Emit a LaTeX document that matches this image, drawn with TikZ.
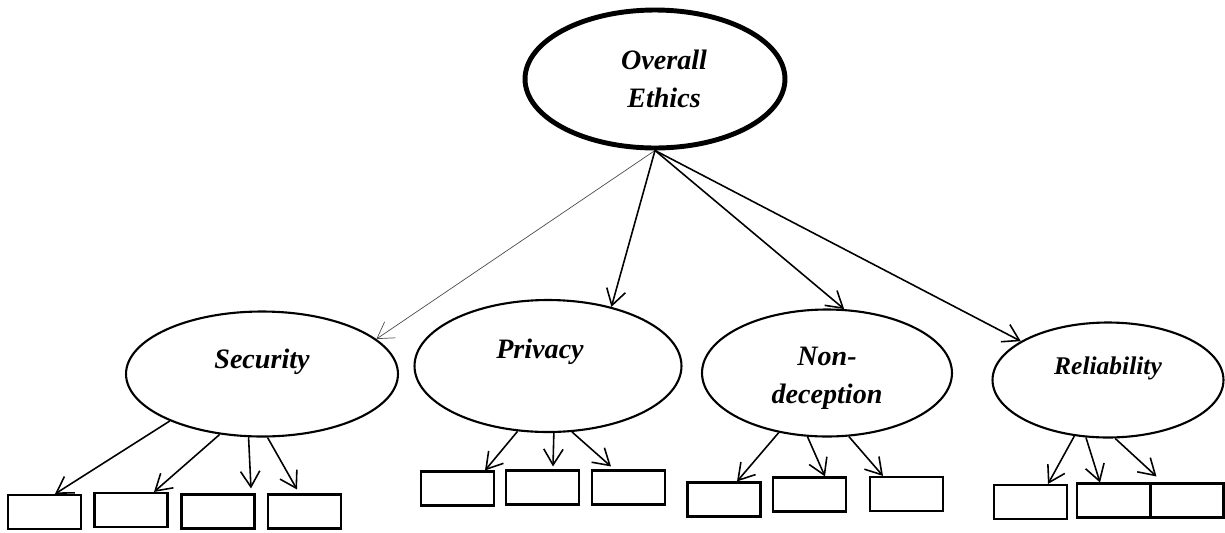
\documentclass[tikz,border=0pt]{standalone}
\usepackage{fontspec}
\setmainfont{Liberation Serif}
\usetikzlibrary{shapes.geometric,arrows.meta}

\tikzset{
	factor/.style={ellipse,draw,line width=1.2pt,inner sep=0pt},
	item/.style={rectangle,draw,line width=1.2pt,minimum width=1.46cm,minimum height=0.68cm,inner sep=0pt},
	factortext/.style={font=\bfseries\itshape\fontsize{16}{21.5}\selectfont,align=center},
}

\begin{document}
\begin{tikzpicture}[x=0.02cm,y=-0.02cm,>={Straight Barb[length=9pt,width=11pt]},line width=0.9pt]

\useasboundingbox (0,0) rectangle (1225,532);

% top level
\node [factor,line width=2.8pt,minimum width=5.2cm,minimum height=2.76cm,
	label={[factortext,xshift=0.18cm]center:{Overall\\Ethics}}] (ethics) at (655,79) {};

% factors
\node [factor,minimum width=5.44cm,minimum height=2.5cm,
	label={[factortext,yshift=0.24cm]center:Security}] (sec) at (262,374) {};
\node [factor,minimum width=5.34cm,minimum height=2.64cm,
	label={[factortext,xshift=-0.16cm,yshift=0.28cm]center:Privacy}] (priv) at (548,366) {};
\node [factor,minimum width=5.0cm,minimum height=2.54cm,
	label={[factortext,yshift=-0.1cm]center:{Non-\\deception}}] (nondec) at (827,373) {};
\node [factor,minimum width=4.62cm,minimum height=2.3cm,
	label={[factortext,font=\bfseries\itshape\fontsize{14.5}{18}\selectfont,yshift=0.24cm]center:Reliability}] (rel) at (1108,380) {};

% items
\node [item] (s1) at (44.5,512) {};
\node [item] (s2) at (131,510) {};
\node [item] (s3) at (218,511.5) {};
\node [item] (s4) at (304.5,511.5) {};

\node [item] (p1) at (457.5,488.5) {};
\node [item] (p2) at (542.5,487.5) {};
\node [item] (p3) at (628.5,487.5) {};

\node [item] (n1) at (724,499.5) {};
\node [item] (n2) at (809.5,494.5) {};
\node [item] (n3) at (906.5,494) {};

\node [item] (r1) at (1030.5,502) {};
\node [item] (r2) at (1113.5,500.5) {};
\node [item] (r3) at (1187,500.5) {};

\path [->]
	(ethics.south)
		edge [line width=0.4pt,black!70] (sec.17)
		edge (priv.43)
		edge (nondec.75)
		edge (rel.156)
	(sec.-153) edge ([xshift=0.21cm]s1.north)
	(sec.-125) edge ([xshift=0.46cm]s2.north)
	(sec.-102) edge ([xshift=0.66cm,yshift=0.1cm]s3.north)
	(sec.-85) edge ([xshift=-0.15cm,yshift=0.08cm]s4.north)
	(priv.-115) edge ([xshift=0.55cm]p1.north)
	(priv.-85) edge ([xshift=0.21cm,yshift=0.06cm]p2.north)
	(priv.-70) edge ([xshift=-0.35cm,yshift=0.06cm]p3.north)
	(nondec.-129) edge ([xshift=0.26cm]n1.north)
	(nondec.-107) edge ([xshift=0.31cm]n2.north)
	(nondec.-71) edge ([xshift=-0.47cm]n3.north)
	(rel.-121) edge ([xshift=0.35cm]r1.north)
	(rel.-111) edge ([xshift=-0.27cm]r2.north)
	(rel.-83) edge ([xshift=-0.61cm,yshift=0.12cm]r3.north)
;

\end{tikzpicture}
\end{document}
